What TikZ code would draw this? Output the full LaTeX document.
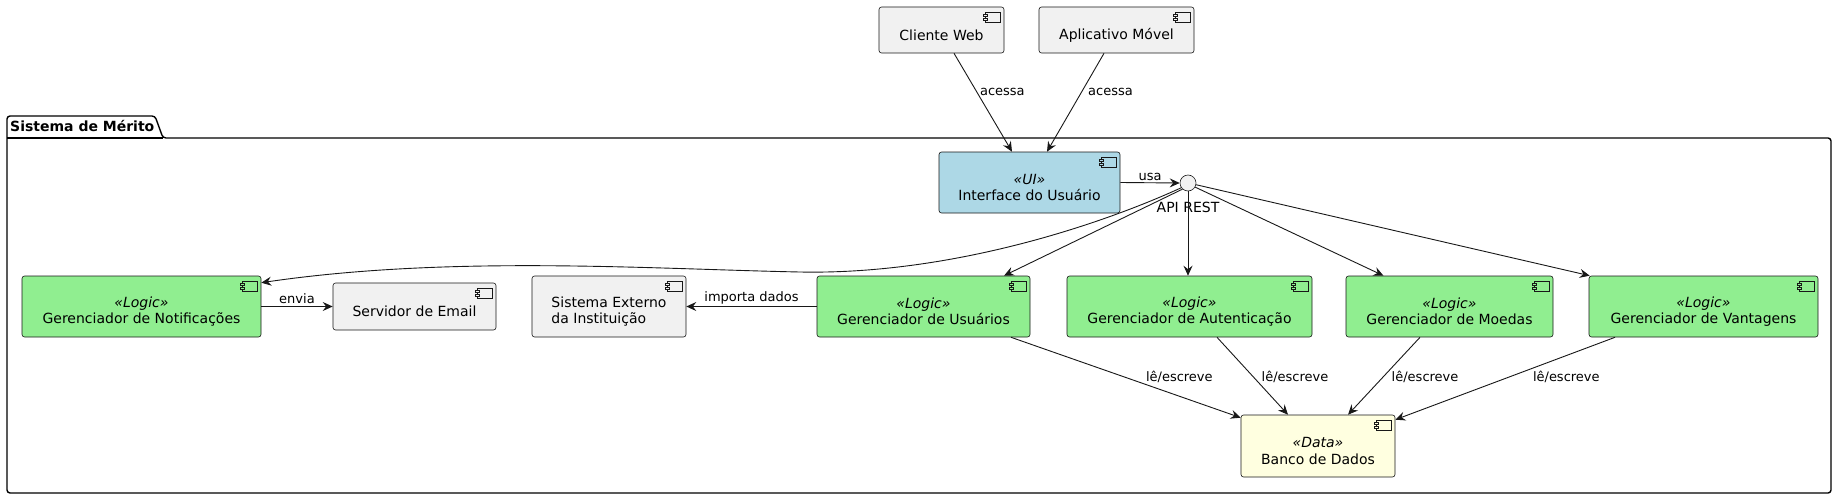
\documentclass[tikz,border=0pt]{standalone}
\usepackage{fontspec}
\setmainfont{DejaVu Sans}
\usetikzlibrary{arrows.meta}
\definecolor{boxfill}{HTML}{F1F1F1}
\definecolor{lineclr}{HTML}{181818}
\definecolor{uiclr}{HTML}{ADD8E6}
\definecolor{logicclr}{HTML}{90EE90}
\definecolor{dataclr}{HTML}{FFFFE0}
\tikzset{
  compbox/.style={draw=lineclr, line width=0.6pt, rounded corners=2.5pt, inner sep=0pt},
  complbl/.style={font=\fontsize{14pt}{16.5pt}\selectfont, text=black, inner sep=0pt, yshift=-5pt},
  iconline/.style={draw=lineclr, line width=0.5pt},
  edge/.style={draw=lineclr, line width=0.9pt, -{Stealth[length=10pt,width=9pt,inset=3.5pt]}},
  elbl/.style={font=\fontsize{13pt}{15pt}\selectfont, text=black, inner sep=2pt},
  pkg/.style={draw=black, line width=1.4pt}
}
\newcommand\comp[8]{%
  \node[compbox, fill=#6, minimum width=#4pt, minimum height=#5pt,
        label={[complbl, align=#7]center:{#8}}] (#1) at (#2,#3) {};
  \draw[iconline, fill=#6] ([shift={(-19.5,6)}]#1.north east) rectangle +(15,10);
  \draw[iconline, fill=#6] ([shift={(-21.5,8)}]#1.north east) rectangle +(4,2);
  \draw[iconline, fill=#6] ([shift={(-21.5,12)}]#1.north east) rectangle +(4,2);
}
\begin{document}
\begin{tikzpicture}[x=1pt, y=-1pt]
\useasboundingbox (0,0) rectangle (1836,500);
% package
\draw[pkg, rounded corners=3pt] (7,493) -- (7,116) -- (155,116) -- (163,138) -- (1831,138) -- (1831,493) -- cycle;
\draw[pkg] (7,138) -- (163,138);
\node[anchor=west, font=\fontsize{14pt}{16pt}\selectfont\bfseries, inner sep=0pt] (pkgname) at (10,126.5) {Sistema de Mérito};
% components
\comp{cw}{941.5}{30}{125}{46}{boxfill}{center}{Cliente Web}
\comp{app}{1116.5}{30}{155}{46}{boxfill}{center}{Aplicativo Móvel}
\comp{ui}{1029.5}{182.5}{181}{61}{uiclr}{center}{\textit{«UI»}\\Interface do Usuário}
\comp{notif}{141.5}{306.5}{239}{61}{logicclr}{center}{\textit{«Logic»}\\Gerenciador de Notificações}
\comp{email}{414.5}{306.5}{163}{47}{boxfill}{center}{Servidor de Email}
\comp{ext}{609}{306.5}{154}{61}{boxfill}{left}{Sistema Externo\\da Instituição}
\comp{usu}{923.5}{306.5}{213}{61}{logicclr}{center}{\textit{«Logic»}\\Gerenciador de Usuários}
\comp{aut}{1189.5}{306.5}{245}{61}{logicclr}{center}{\textit{«Logic»}\\Gerenciador de Autenticação}
\comp{moe}{1449.5}{306.5}{207}{61}{logicclr}{center}{\textit{«Logic»}\\Gerenciador de Moedas}
\comp{van}{1703.5}{306.5}{229}{61}{logicclr}{center}{\textit{«Logic»}\\Gerenciador de Vantagens}
\comp{db}{1318}{446}{154}{62}{dataclr}{center}{\textit{«Data»}\\Banco de Dados}
% interface circle
\node[circle, draw=lineclr, fill=boxfill, line width=0.6pt, minimum size=16pt, inner sep=0pt] (api) at (1188,183) {};
\node[font=\fontsize{14pt}{16pt}\selectfont, inner sep=0pt] (apilbl) at (1188,207) {API REST};
% edges
\draw[edge] ([xshift=12.5pt]cw.south) -- node[elbl, pos=0.39, anchor=west, xshift=1pt] {acessa} ([xshift=-17.5pt]ui.north);
\draw[edge] ([xshift=-12.5pt]app.south) -- node[elbl, pos=0.39, anchor=west, xshift=4pt] {acessa} ([xshift=17.5pt]ui.north);
\draw[edge] (ui.east) -- node[elbl, above] {usa} (api.west);
\coordinate (mid) at (800,272);
\draw[edge] (api.215) .. controls (1100,225) and (950,275) .. (mid) .. controls (650,269) and (450,255) .. ([yshift=-7pt]notif.north east);
\draw[edge] (api.228) -- ([xshift=80.5pt]usu.north);
\draw[edge] (api.south) -- (api.south |- aut.north);
\draw[edge] (api.-30) -- ([xshift=-66pt]moe.north);
\draw[edge] (api.-12) -- ([xshift=1pt]van.north west);
\draw[edge] (notif.east) -- node[elbl, above] {envia} (email.west);
\draw[edge] (usu.west) -- node[elbl, above] {importa dados} (ext.east);
\draw[edge] ([xshift=87.5pt]usu.south) -- node[elbl, pos=0.49, anchor=west, xshift=20pt] {lê/escreve} ([yshift=-3pt]db.north west);
\draw[edge] ([xshift=27.5pt]aut.south) -- node[elbl, pos=0.51, anchor=west, xshift=6pt] {lê/escreve} ([xshift=-30pt]db.north);
\draw[edge] ([xshift=-29.5pt]moe.south) -- node[elbl, pos=0.51, anchor=west, xshift=6pt] {lê/escreve} ([xshift=30pt]db.north);
\draw[edge] ([xshift=-88.5pt]van.south) -- node[elbl, pos=0.48, anchor=west, xshift=21pt] {lê/escreve} ([yshift=-5pt]db.north east);
\end{tikzpicture}
\end{document}
